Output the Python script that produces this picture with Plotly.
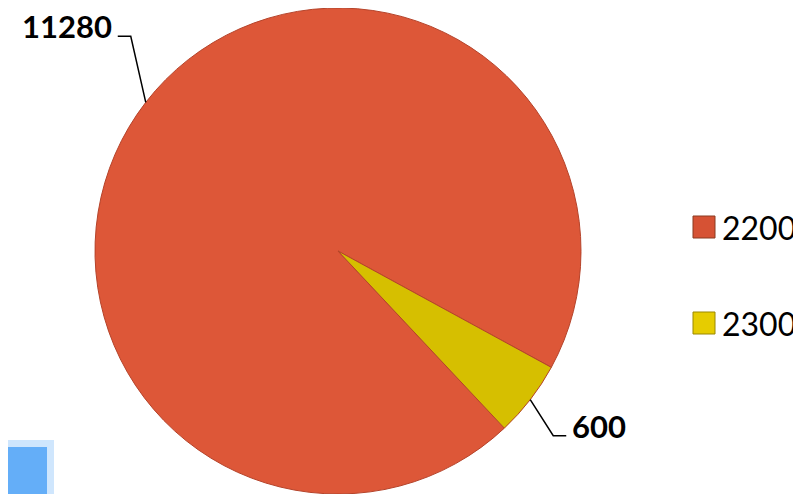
import math
import plotly.graph_objects as go

# ---- data ----
labels = ["2200", "2300"]
values = [11280, 600]
slice_colors = ["#DD5738", "#D6BF00"]
legend_swatch_colors = ["#D65234", "#E6CC00"]

# the page places the figure 8px in from the window's top-left corner
OFF = 8
W, H = 801 - OFF, 494 - OFF
pie_cx, pie_R = 330, 243
dom_x = [(pie_cx - pie_R) / W, (pie_cx + pie_R) / W]
dom_y = [0.0, 1.0]
rotation = 136.8

fig = go.Figure(go.Pie(
    labels=labels,
    values=values,
    sort=False,
    direction="clockwise",
    rotation=rotation,
    textinfo="none",
    hoverinfo="label+value",
    marker=dict(colors=slice_colors, line=dict(color="#B5432A", width=1)),
    domain=dict(x=dom_x, y=dom_y),
    showlegend=False,
))

# geometry derived from the pie domain and the data
cx = W * (dom_x[0] + dom_x[1]) / 2
cy = H * (1 - (dom_y[0] + dom_y[1]) / 2)
R = min(W * (dom_x[1] - dom_x[0]), H * (dom_y[1] - dom_y[0])) / 2
total = sum(values)


def px(x):
    return x / W


def py(y):
    return 1 - y / H


# leader layout: (elbow offset from edge point, horizontal run, text side)
leader = [
    dict(elbow=(-15, -66), run=-13, side="right"),
    dict(elbow=(23, 36), run=13, side="left"),
]

shapes = []
annotations = []
start = rotation
for i, v in enumerate(values):
    span = 360 * v / total
    mid = math.radians(start + span / 2)
    start += span
    ex = cx + R * math.sin(mid)
    ey = cy - R * math.cos(mid)
    lx = ex + leader[i]["elbow"][0]
    ly = ey + leader[i]["elbow"][1]
    hx = lx + leader[i]["run"]
    path = f"M {px(ex)} {py(ey)} L {px(lx)} {py(ly)} L {px(hx)} {py(ly)}"
    shapes.append(dict(type="path", xref="paper", yref="paper", path=path,
                       line=dict(color="black", width=1.5)))
    right = leader[i]["side"] == "right"
    annotations.append(dict(x=px(hx - 4 if right else hx + 4), y=py(ly - 10),
                            xref="paper", yref="paper",
                            text=f"<b>{v}</b>", showarrow=False,
                            xanchor="right" if right else "left", yanchor="middle",
                            font=dict(family="Lato", size=31, color="black")))

# manual legend
leg_x, leg_y0, leg_gap, sw = 685, 219, 96, 22
for i, lab in enumerate(labels):
    yc = leg_y0 + i * leg_gap
    shapes.append(dict(type="rect", xref="paper", yref="paper",
                       x0=px(leg_x), x1=px(leg_x + sw), y0=py(yc - sw / 2), y1=py(yc + sw / 2),
                       fillcolor=legend_swatch_colors[i],
                       line=dict(color="#8A3A20" if i == 0 else "#9A8800", width=1)))
    annotations.append(dict(x=px(leg_x + sw + 5), y=py(yc), xref="paper", yref="paper",
                            text=lab, showarrow=False, xanchor="left", yanchor="middle",
                            font=dict(family="Lato", size=32, color="black")))

# blue blurred block at bottom-left of the screenshot
shapes.append(dict(type="rect", xref="paper", yref="paper", layer="below",
                   x0=0, x1=px(46), y0=0, y1=py(432), fillcolor="#CFE6FD", line=dict(width=0)))
shapes.append(dict(type="rect", xref="paper", yref="paper", layer="below",
                   x0=0, x1=px(39), y0=0, y1=py(439), fillcolor="#64AEF8", line=dict(width=0)))

fig.update_layout(
    width=W, height=H,
    margin=dict(l=0, r=0, t=0, b=0),
    paper_bgcolor="white",
    plot_bgcolor="white",
    shapes=shapes,
    annotations=annotations,
)

fig.write_html("out.html")
